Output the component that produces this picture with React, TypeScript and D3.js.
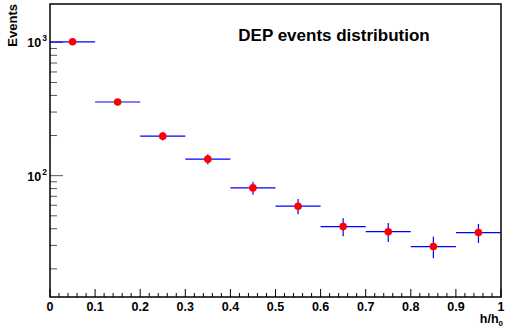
import React from "react";
import * as d3 from "d3";

const binCenters = [0.05, 0.15, 0.25, 0.35, 0.45, 0.55, 0.65, 0.75, 0.85, 0.95];
const counts = [1010, 357, 198, 133, 81, 59, 41.5, 38, 29.4, 37.4];
const errors = [31.8, 18.9, 14.1, 11.5, 9.0, 7.7, 6.4, 6.2, 5.4, 6.1];
const binHalfWidth = 0.05;
const xTicks = [0, 0.1, 0.2, 0.3, 0.4, 0.5, 0.6, 0.7, 0.8, 0.9, 1];
const yDecades = [2, 3];

const W = 506, H = 328;
const L = 50, R = 501, T = 4, B = 297;
const FONT = "'Liberation Sans', Arial, Helvetica, sans-serif";

export default function App() {
  const x = d3.scaleLinear().domain([0, 1]).range([L, R]);
  const y = d3.scaleLog().domain([12.3, 1940]).range([B, T]);

  const xMinor = d3.range(0, 51).map((i) => i / 50);
  const yMinor: number[] = [];
  for (let e = 1; e <= 3; e++) {
    for (let m = 1; m <= 9; m++) {
      const v = m * Math.pow(10, e);
      if (v >= 12.3 && v <= 1940 && m !== 1) yMinor.push(v);
    }
  }

  return (
    <svg width={W} height={H} style={{ position: "absolute", left: 0, top: 0 }}>
      <rect x={0} y={0} width={W} height={H} fill="#fff" />
      {xMinor.map((v, i) => (
        <line key={"xm" + i} x1={x(v)} x2={x(v)} y1={B} y2={i % 5 === 0 ? B - 8 : B - 4} stroke="#000" strokeWidth={1} />
      ))}
      {yMinor.map((v, i) => (
        <line key={"ym" + i} x1={L} x2={L + 7} y1={y(v)} y2={y(v)} stroke="#555" strokeWidth={1} />
      ))}
      {yDecades.map((e) => (
        <line key={"yM" + e} x1={L} x2={L + 13} y1={y(Math.pow(10, e))} y2={y(Math.pow(10, e))} stroke="#555" strokeWidth={1} />
      ))}
      <rect x={L} y={T} width={R - L} height={B - T} fill="none" stroke="#000" strokeWidth={1.5} />
      {xTicks.map((v) => (
        <text key={"xl" + v} x={x(v)} y={311} textAnchor="middle" fontFamily={FONT} fontWeight="bold" fontSize={12.5} fill="#000">
          {v === 0 ? "0" : v === 1 ? "1" : v.toFixed(1)}
        </text>
      ))}
      {yDecades.map((e) => (
        <text key={"yl" + e} x={47} y={y(Math.pow(10, e)) + 5} textAnchor="end" fontFamily={FONT} fontWeight="bold" fontSize={12.5} fill="#000">
          10
          <tspan fontSize={8.5} dx={1} dy={-6}>{e}</tspan>
        </text>
      ))}
      <text transform={`translate(17,${T}) rotate(-90)`} textAnchor="end" fontFamily={FONT} fontWeight="bold" fontSize={13} fill="#000">
        Events
      </text>
      <text x={R + 2} y={323} textAnchor="end" fontFamily={FONT} fontWeight="bold" fontSize={12.5} fill="#000">
        h/h<tspan fontSize={8} dy={3}>0</tspan>
      </text>
      <text x={334} y={41} textAnchor="middle" fontFamily={FONT} fontWeight="bold" fontSize={17} fill="#000">
        DEP events distribution
      </text>
      {binCenters.map((c, i) => (
        <g key={"p" + i}>
          <line x1={x(c - binHalfWidth)} x2={x(c + binHalfWidth)} y1={y(counts[i])} y2={y(counts[i])} stroke="#0000ff" strokeWidth={1.2} />
          <line x1={x(c)} x2={x(c)} y1={y(counts[i] - errors[i])} y2={y(counts[i] + errors[i])} stroke="#0000ff" strokeWidth={1.2} />
          <circle cx={x(c)} cy={y(counts[i])} r={3.8} fill="#ff0000" />
        </g>
      ))}
    </svg>
  );
}
